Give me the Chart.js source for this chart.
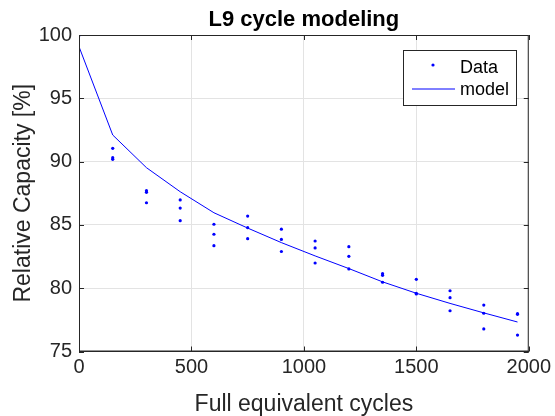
<!DOCTYPE html>
<html>
<head>
<meta charset="utf-8">
<script src="https://cdn.jsdelivr.net/npm/chart.js@4.4.1/dist/chart.umd.min.js"></script>
<style>
  html, body { margin: 0; padding: 0; background: #fff; }
  #wrap { width: 555px; height: 416px; }
</style>
</head>
<body>
<div id="wrap"><canvas id="capChart" width="555" height="416"></canvas></div>
<script>
// cycles where the cells were measured
const cycles = [0, 150, 300, 450, 600, 750, 900, 1050, 1200, 1350, 1500, 1650, 1800, 1950];
// measured relative capacity of the three cells [%]
const cell1 = [100, 91.05, 87.70, 86.97, 85.05, 85.70, 84.66, 83.73, 83.28, 81.15, 80.70, 79.80, 78.67, 77.99];
const cell2 = [100, 90.31, 87.57, 86.33, 84.26, 84.78, 83.85, 83.18, 82.52, 81.02, 79.60, 79.25, 78.02, 77.94];
const cell3 = [100, 90.18, 86.75, 85.33, 83.36, 83.91, 82.90, 81.99, 81.52, 80.47, 79.55, 78.22, 76.78, 76.30];
// fitted model at the same cycles
const model = [99.08, 92.10, 89.52, 87.62, 85.96, 84.75, 83.60, 82.55, 81.55, 80.50, 79.60, 78.80, 78.05, 77.33];
const xTicks = [0, 500, 1000, 1500, 2000];
const yTicks = [75, 80, 85, 90, 95, 100];

const txtColor = '#262626';
const fontName = '"Liberation Sans", Arial, Helvetica, sans-serif';

const dataPoints = [];
[cell1, cell2, cell3].forEach(cell => {
    cell.forEach((v, i) => dataPoints.push({ x: cycles[i], y: v }));
});
const modelPoints = model.map((v, i) => ({ x: cycles[i], y: v }));

// box round the axes, inward ticks and the legend, like matlab
const matlabBox = {
    id: 'matlabBox',
    afterDatasetsDraw(chart) {
        const { ctx, chartArea: a, scales } = chart;
        ctx.save();
        ctx.strokeStyle = txtColor;
        ctx.lineWidth = 1;
        ctx.beginPath();
        ctx.rect(a.left + 0.5, a.top + 0.5, a.right - a.left - 1, a.bottom - a.top - 1);
        ctx.stroke();
        const tl = 5;
        ctx.beginPath();
        xTicks.forEach(t => {
            const px = Math.round(scales.x.getPixelForValue(t)) + 0.5;
            ctx.moveTo(px, a.bottom); ctx.lineTo(px, a.bottom - tl);
            ctx.moveTo(px, a.top); ctx.lineTo(px, a.top + tl);
        });
        yTicks.forEach(t => {
            const py = Math.round(scales.y.getPixelForValue(t)) + 0.5;
            ctx.moveTo(a.left, py); ctx.lineTo(a.left + tl, py);
            ctx.moveTo(a.right, py); ctx.lineTo(a.right - tl, py);
        });
        ctx.stroke();

        // legend
        const lx = 403.5, ly = 50.5, lw = 113, lh = 55;
        ctx.fillStyle = '#fff';
        ctx.fillRect(lx, ly, lw, lh);
        ctx.strokeStyle = txtColor;
        ctx.strokeRect(lx, ly, lw, lh);
        ctx.fillStyle = 'blue';
        ctx.beginPath();
        ctx.arc(433, 65, 1.6, 0, Math.PI * 2);
        ctx.fill();
        ctx.strokeStyle = 'blue';
        ctx.beginPath();
        ctx.moveTo(412, 89); ctx.lineTo(455, 89);
        ctx.stroke();
        ctx.fillStyle = 'black';
        ctx.font = '18px ' + fontName;
        ctx.textBaseline = 'alphabetic';
        ctx.fillText('Data', 460, 73);
        ctx.fillText('model', 460, 95);
        ctx.restore();
    }
};

new Chart(document.getElementById('capChart'), {
    type: 'scatter',
    data: {
        datasets: [{
            label: 'Data',
            data: dataPoints,
            showLine: false,
            pointRadius: 1.6,
            pointBackgroundColor: 'blue',
            pointBorderWidth: 0,
            borderColor: 'blue'
        }, {
            label: 'model',
            data: modelPoints,
            showLine: true,
            pointRadius: 0,
            borderColor: 'blue',
            borderWidth: 1,
            tension: 0
        }]
    },
    options: {
        responsive: false,
        animation: false,
        layout: { padding: { left: 0, right: 25, top: 0, bottom: 0 } },
        plugins: {
            legend: { display: false },
            tooltip: { enabled: false },
            title: {
                display: true,
                text: 'L9 cycle modeling',
                fullSize: false,
                color: 'black',
                font: { family: fontName, size: 22, weight: 'bold', lineHeight: 1 },
                padding: { top: 9, bottom: 4 }
            }
        },
        scales: {
            x: {
                type: 'linear',
                min: 0,
                max: 2000,
                afterFit: s => { s.height = 64.5; },
                afterBuildTicks: s => { s.ticks = xTicks.map(v => ({ value: v })); },
                ticks: {
                    color: txtColor,
                    font: { family: fontName, size: 20 },
                    padding: 4,
                    maxRotation: 0,
                    callback: v => String(v)
                },
                grid: { color: '#e3e3e3', drawTicks: false },
                border: { color: txtColor },
                title: {
                    display: true,
                    text: 'Full equivalent cycles',
                    color: txtColor,
                    font: { family: fontName, size: 23, lineHeight: 1 },
                    padding: { top: 0, bottom: 0 }
                }
            },
            y: {
                type: 'linear',
                min: 75,
                max: 100,
                afterFit: s => { s.width = 79; },
                afterBuildTicks: s => { s.ticks = yTicks.map(v => ({ value: v })); },
                ticks: {
                    color: txtColor,
                    font: { family: fontName, size: 20 },
                    padding: 7,
                    callback: v => String(v)
                },
                grid: { color: '#e3e3e3', drawTicks: false },
                border: { color: txtColor },
                title: {
                    display: true,
                    text: 'Relative Capacity [%]',
                    color: txtColor,
                    font: { family: fontName, size: 23, lineHeight: 1 },
                    padding: { top: 12.5, bottom: 0 }
                }
            }
        }
    },
    plugins: [matlabBox]
});
</script>
</body>
</html>
